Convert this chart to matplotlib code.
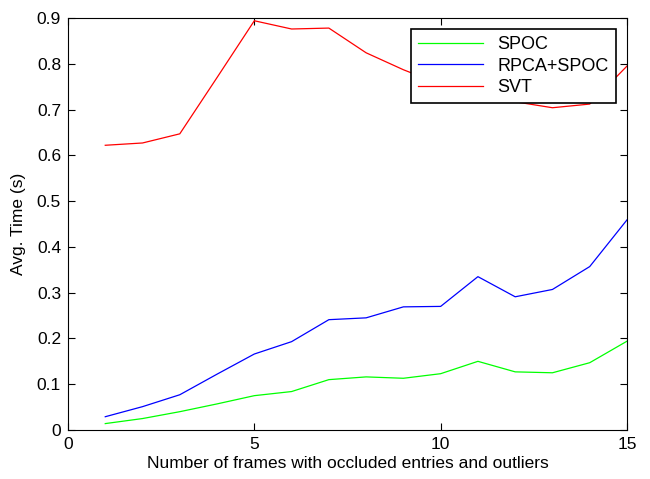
import numpy as np
import matplotlib
matplotlib.use('Agg')
import matplotlib.pyplot as plt

plt.rcParams['font.family'] = ['Liberation Sans', 'DejaVu Sans']

frames = [1, 2, 3, 4, 5, 6, 7, 8, 9, 10, 11, 12, 13, 14, 15]
spoc = [0.014, 0.025, 0.040, 0.057, 0.075, 0.084, 0.110, 0.116, 0.113, 0.123,
        0.150, 0.127, 0.125, 0.147, 0.194]
rpca_spoc = [0.029, 0.051, 0.077, 0.122, 0.166, 0.193, 0.241, 0.245, 0.269, 0.270,
             0.335, 0.291, 0.307, 0.357, 0.459]
svt = [0.622, 0.627, 0.647, 0.770, 0.894, 0.876, 0.878, 0.824, 0.787, 0.755,
       0.722, 0.717, 0.704, 0.712, 0.795]

fig = plt.figure(figsize=(6.5, 4.79), dpi=100)
ax = fig.add_axes([0.1046, 0.1023, 0.86, 0.8601])

ax.plot(frames, spoc, color='#00ff00', lw=0.9, label='SPOC')
ax.plot(frames, rpca_spoc, color='#0000ff', lw=0.9, label='RPCA+SPOC')
ax.plot(frames, svt, color='#ff0000', lw=0.9, label='SVT')

ax.set_xlim(0, 15)
ax.set_ylim(0, 0.9)
ax.set_xticks([0, 5, 10, 15])
ax.set_yticks(np.arange(0, 0.91, 0.1))
ax.set_yticklabels(['0', '0.1', '0.2', '0.3', '0.4', '0.5', '0.6', '0.7', '0.8', '0.9'])
ax.tick_params(direction='in', top=True, right=True, labelsize=12.5, length=5, pad=5)
for s in ax.spines.values():
    s.set_linewidth(0.8)

ax.set_xlabel('Number of frames with occluded entries and outliers', fontsize=12.5, labelpad=3)
ax.set_ylabel('Avg. Time (s)', fontsize=12.5, labelpad=8)

leg = ax.legend(loc='upper right', fontsize=13, fancybox=False, framealpha=1,
                edgecolor='black', borderaxespad=0.6, handlelength=3.6,
                labelspacing=0.25, borderpad=0.4, handletextpad=0.8)
leg.get_frame().set_linewidth(1.2)

plt.savefig('out.png', dpi=100)
